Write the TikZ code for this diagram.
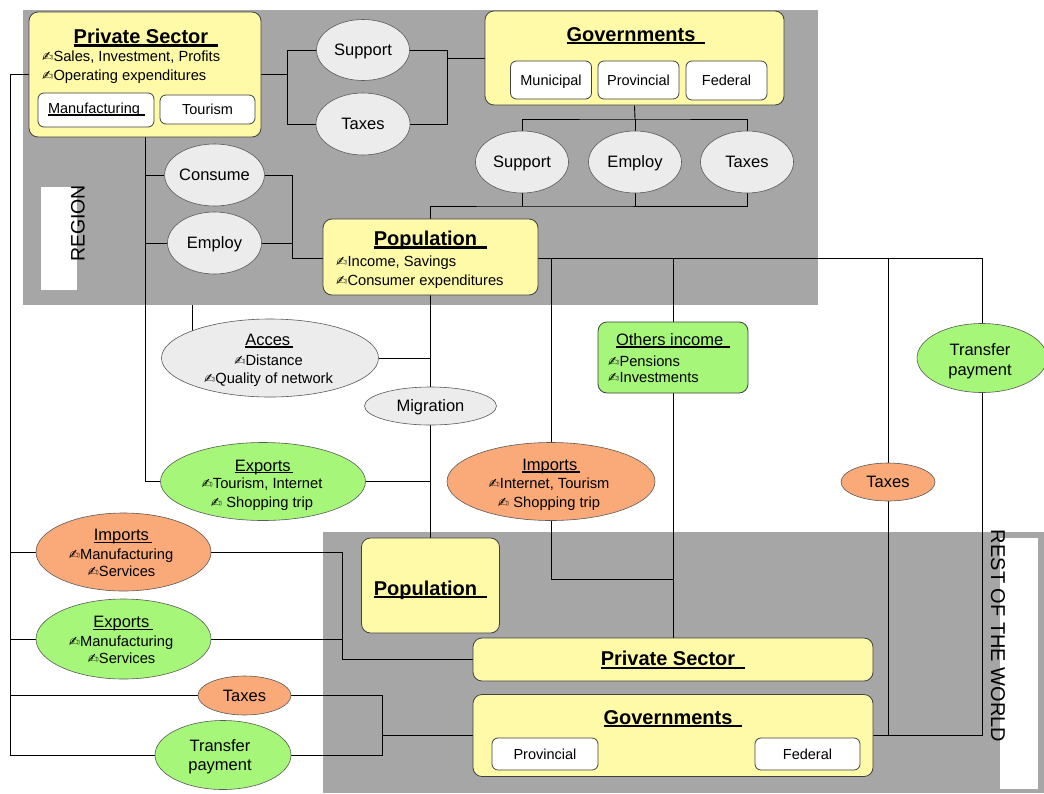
\documentclass[tikz,border=0pt]{standalone}
\usepackage{fontspec}
\setmainfont{Liberation Sans}
\newfontfamily\penfont{DejaVu Sans}
\usetikzlibrary{shapes.geometric}
\definecolor{regiongrey}{RGB}{166,166,166}
\definecolor{boxyellow}{RGB}{255,250,168}
\definecolor{ellgrey}{RGB}{236,236,236}
\definecolor{ellgreen}{RGB}{166,246,122}
\definecolor{ellorange}{RGB}{250,170,120}
\newcommand{\fTitle}{\fontsize{20}{24}\selectfont\bfseries}
\newcommand{\fHead}{\fontsize{16.5}{20}\selectfont}
\newcommand{\fBul}{\fontsize{14.7}{18}\selectfont}
\newcommand{\fBox}{\fontsize{14.5}{17}\selectfont}
\newcommand{\pen}{{\penfont\fontsize{13.5}{13.5}\selectfont ✍}}
\newsavebox{\hdbox}
\newcommand{\hd}[3]{\sbox{\hdbox}{#3\hspace{#2}}\rlap{\rule[\dimexpr-0.9pt-#1\relax]{\wd\hdbox}{#1}}\usebox{\hdbox}}
\pgfdeclarelayer{bg}
\pgfdeclarelayer{lines}
\pgfsetlayers{bg,lines,main}
\begin{document}
\begin{tikzpicture}[x=1pt,y=-1pt,
  ybox/.style={draw=black!75, line width=0.8pt, fill=boxyellow, rounded corners=9pt, inner sep=0pt},
  wbox/.style={draw=black!75, line width=0.8pt, fill=white, rounded corners=6pt, inner sep=0pt, font=\fBox, text depth=0pt},
  gbox/.style={draw=black!75, line width=0.8pt, fill=ellgreen, rounded corners=9pt, inner sep=0pt},
  ell/.style={ellipse, draw=black!65, line width=0.6pt, inner sep=0pt, font=\fHead, text depth=0pt},
  gell/.style={ell, fill=ellgrey},
  grell/.style={ell, fill=ellgreen},
  orell/.style={ell, fill=ellorange},
  txt/.style={anchor=base, inner sep=0pt},
  txtw/.style={anchor=base west, inner sep=0pt},
  conn/.style={draw=black, line width=0.9pt},
]
\useasboundingbox (0,0) rectangle (1044,793);

% ---------- regions ----------
\begin{pgfonlayer}{bg}
\fill[regiongrey] (23,10) rectangle (818,305);
\fill[regiongrey] (323,532) rectangle (1044,793);
\fill[white] (41,187) rectangle (77,290);
\fill[white] (1000,538) rectangle (1038,789);
\end{pgfonlayer}
\node[rotate=90, inner sep=0pt, font=\fontsize{19.5}{20}\selectfont] (regionLbl) at (78,223.5) {REGION};
\node[rotate=-90, inner sep=0pt, font=\fontsize{20}{20}\selectfont] (rowLbl) at (998,636) {REST OF THE WORLD};

% ---------- region: private sector ----------
\node[ybox, minimum width=232pt, minimum height=125pt] (psTop) at (145,74.5) {};
\node[txt, font=\fTitle] (psTitle) at (146,43.5) {\hd{2.2pt}{0.5em}{Private Sector}};
\node[txtw, font=\fBul] (psB1) at (42,61) {\pen Sales, Investment, Profits};
\node[txtw, font=\fBul] (psB2) at (42,80) {\pen Operating expenditures};
\node[wbox, minimum width=116pt, minimum height=34pt] (manuf) at (96,110) {};
\node[txt, font=\fBox] (manufT) at (96.5,113.3) {\hd{1.3pt}{0.35em}{Manufacturing}};
\node[wbox, minimum width=95pt, minimum height=29pt] (tour) at (207.5,109.5) {Tourism};

% ---------- region: support / taxes between sectors ----------
\node[gell, minimum width=93pt, minimum height=61pt] (supTop) at (363,50) {Support};
\node[gell, minimum width=94pt, minimum height=62pt] (taxTop) at (363,124) {Taxes};

% ---------- region: governments ----------
\node[ybox, minimum width=299pt, minimum height=94pt] (govTop) at (634.5,58) {};
\node[txt, font=\fTitle] (govTitle) at (636,41) {\hd{2.2pt}{0.5em}{Governments}};
\node[wbox, minimum width=81pt, minimum height=38pt] (mun) at (551,80) {Municipal};
\node[wbox, minimum width=81pt, minimum height=38pt] (prov) at (638.5,80) {Provincial};
\node[wbox, minimum width=81pt, minimum height=39pt] (fed) at (726.5,80.5) {Federal};

\node[gell, minimum width=93pt, minimum height=62pt] (supG) at (522,162) {Support};
\node[gell, minimum width=93pt, minimum height=62pt] (empG) at (635,162) {Employ};
\node[gell, minimum width=93pt, minimum height=62pt] (taxG) at (747,162) {Taxes};

% ---------- region: consume / employ / population ----------
\node[gell, minimum width=94pt, minimum height=62pt] (consume) at (214.5,175) {Consume};
\node[gell, minimum width=94pt, minimum height=62pt] (employP) at (214.5,243) {Employ};

\node[ybox, minimum width=215pt, minimum height=76pt] (popTop) at (430.5,257) {};
\node[txt, font=\fTitle] (popTitle) at (430.5,245.5) {\hd{2.2pt}{0.5em}{Population}};
\node[txtw, font=\fBul] (popB1) at (336,266.7) {\pen Income, Savings};
\node[txtw, font=\fBul] (popB2) at (336,285.7) {\pen Consumer expenditures};

% ---------- between regions ----------
\node[gell, minimum width=217pt, minimum height=78pt] (acces) at (270,358) {};
\node[txt, font=\fHead] (accesH) at (269,345.5) {\hd{1.4pt}{0.15em}{Acces}};
\node[txt, font=\fBul] (accesB1) at (268.5,365.5) {\pen Distance};
\node[txt, font=\fBul] (accesB2) at (268.5,383) {\pen Quality of network};

\node[gell, minimum width=132pt, minimum height=38pt] (migr) at (430.5,406) {Migration};

\node[grell, minimum width=205pt, minimum height=78pt] (expM) at (263,481.5) {};
\node[txt, font=\fHead] (expMH) at (264,471) {\hd{1.4pt}{0.15em}{Exports}};
\node[txt, font=\fBul] (expMB1) at (262,488.3) {\pen Tourism, Internet};
\node[txt, font=\fBul] (expMB2) at (262,507) {\pen\ Shopping trip};

\node[orell, minimum width=208pt, minimum height=78pt] (impM) at (551,481.5) {};
\node[txt, font=\fHead] (impMH) at (551,470.5) {\hd{1.4pt}{0.15em}{Imports}};
\node[txt, font=\fBul] (impMB1) at (549,488.3) {\pen Internet, Tourism};
\node[txt, font=\fBul] (impMB2) at (549,507.3) {\pen\ Shopping trip};

\node[gbox, minimum width=150pt, minimum height=71pt] (others) at (673,357.5) {};
\node[txt, font=\fHead] (othersH) at (673,345) {\hd{1.8pt}{0.4em}{Others income}};
\node[txtw, font=\fBul] (othersB1) at (608,366.7) {\pen Pensions};
\node[txtw, font=\fBul] (othersB2) at (608,382) {\pen Investments};

\node[grell, minimum width=130pt, minimum height=69pt] (trR) at (982,358) {};
\node[txt, font=\fHead] (trRT1) at (980,355) {Transfer};
\node[txt, font=\fHead] (trRT2) at (980,375) {payment};

\node[orell, minimum width=94pt, minimum height=38pt] (taxR) at (888,482) {Taxes};

% ---------- left side ----------
\node[orell, minimum width=175pt, minimum height=78pt] (impL) at (123.5,552) {};
\node[txt, font=\fHead] (impLH) at (123,540.7) {\hd{1.4pt}{0.2em}{Imports}};
\node[txt, font=\fBul] (impLB1) at (121,559.3) {\pen Manufacturing};
\node[txt, font=\fBul] (impLB2) at (121.5,576.7) {\pen Services};

\node[grell, minimum width=175pt, minimum height=80pt] (expL) at (123.5,639) {};
\node[txt, font=\fHead] (expLH) at (123,627.7) {\hd{1.4pt}{0.2em}{Exports}};
\node[txt, font=\fBul] (expLB1) at (121,646) {\pen Manufacturing};
\node[txt, font=\fBul] (expLB2) at (121.5,663.3) {\pen Services};

\node[orell, minimum width=93pt, minimum height=39pt] (taxL) at (244.5,695.5) {Taxes};

\node[grell, minimum width=136pt, minimum height=69pt] (trL) at (223,755) {};
\node[txt, font=\fHead] (trLT1) at (220,751.7) {Transfer};
\node[txt, font=\fHead] (trLT2) at (220,770.7) {payment};

% ---------- rest of the world ----------
\node[ybox, minimum width=138pt, minimum height=95pt] (popBot) at (430.5,585.5) {};
\node[txt, font=\fTitle] (popBotT) at (430.5,595) {\hd{2.2pt}{0.5em}{Population}};
\node[ybox, minimum width=400pt, minimum height=43pt] (psBot) at (673,659.5) {};
\node[txt, font=\fTitle] (psBotT) at (673,665.7) {\hd{2.2pt}{0.5em}{Private Sector}};
\node[ybox, minimum width=400pt, minimum height=82pt] (govBot) at (673,735.5) {};
\node[txt, font=\fTitle] (govBotT) at (673,724) {\hd{2.2pt}{0.5em}{Governments}};
\node[wbox, minimum width=106pt, minimum height=32pt] (provB) at (545,754) {Provincial};
\node[wbox, minimum width=105pt, minimum height=32pt] (fedB) at (807.5,754) {Federal};

% ---------- junctions ----------
\coordinate (jL) at (10,74.5);
\coordinate (jLb) at (10,755);
\coordinate (jImpL) at (10,552);
\coordinate (jExpL) at (10,639);
\coordinate (jTaxL) at (10,695.5);
\coordinate (k1) at (342,552);
\coordinate (k2) at (342,659.5);
\coordinate (k3) at (342,639);
\coordinate (m1) at (382,695.5);
\coordinate (m2) at (382,735.5);
\coordinate (m3) at (382,755);
\coordinate (s1) at (287,74.5);
\coordinate (s2) at (287,50);
\coordinate (s3) at (287,124);
\coordinate (s4) at (447,50);
\coordinate (s5) at (447,124);
\coordinate (s6) at (447,58);
\coordinate (g1) at (635,119);
\coordinate (g2) at (522,206);
\coordinate (v0) at (145,137);
\coordinate (v2) at (145,175);
\coordinate (v3) at (145,243);
\coordinate (v4) at (145,481.5);
\coordinate (c1) at (292,175);
\coordinate (c2) at (292,243);
\coordinate (c3) at (292,258);
\coordinate (p0) at (538,258);
\coordinate (p1) at (551,258);
\coordinate (p2) at (673,258);
\coordinate (p3) at (888,258);
\coordinate (p4) at (982,258);
\coordinate (q1) at (888,735.5);
\coordinate (q2) at (982,735.5);
\coordinate (r1) at (551,579);
\coordinate (r2) at (673,579);
\coordinate (n1) at (430.5,358);
\coordinate (n2) at (430.5,481.5);
\coordinate (a0) at (192,305);

% ---------- connectors ----------
\begin{pgfonlayer}{lines}
% private sector - support/taxes - governments
\draw[conn] (psTop.east) -- (s1);
\draw[conn] (s2) -- (s3);
\draw[conn] (s2) -- (supTop);
\draw[conn] (s3) -- (taxTop);
\draw[conn] (supTop) -- (s4) -- (s5) -- (taxTop);
\draw[conn] (s6) -- (govTop.west);
% governments - support/employ/taxes - population
\draw[conn] (govTop.south) -- (g1);
\draw[conn] (supG.north) |- (g1) -| (taxG.north);
\draw[conn] (empG.north) -- (g1);
\draw[conn] (popTop.north) |- (g2) -| (taxG.south);
\draw[conn] (supG.south) -- (g2);
\draw[conn] (empG.south) -- (empG.south |- g2);
% private sector - consume/employ - population, exports
\draw[conn] (v0) -- (v4) -- (expM);
\draw[conn] (v2) -- (consume);
\draw[conn] (v3) -- (employP);
\draw[conn] (consume) -- (c1) -- (c3) -- (c3 -| popTop.west);
\draw[conn] (employP) -- (c2);
% population outward
\draw[conn] (p0) -- (p4) -- (trR);
\draw[conn] (p1) -- (impM);
\draw[conn] (p2) -- (others);
\draw[conn] (p3) -- (taxR);
\draw[conn] (others) -- (psBot);
\draw[conn] (impM) -- (r1) -- (r2);
\draw[conn] (taxR) -- (q1);
\draw[conn] (trR) -- (q2) -- (govBot.east);
% population vertical
\draw[conn] (popTop) -- (popBot);
\draw[conn] (acces) -- (n1);
\draw[conn] (expM) -- (n2);
\draw[conn] (a0) -- (a0 |- acces.center);
% left bus
\draw[conn] (psTop.west) -- (jL) -- (jLb) -- (trL);
\draw[conn] (jImpL) -- (impL);
\draw[conn] (impL) -- (k1) -- (k2) -- (psBot.west);
\draw[conn] (jExpL) -- (expL) -- (k3);
\draw[conn] (jTaxL) -- (taxL) -- (m1) -- (m2) -- (govBot.west);
\draw[conn] (trL) -- (m3) -- (m2);
\end{pgfonlayer}
\end{tikzpicture}
\end{document}
